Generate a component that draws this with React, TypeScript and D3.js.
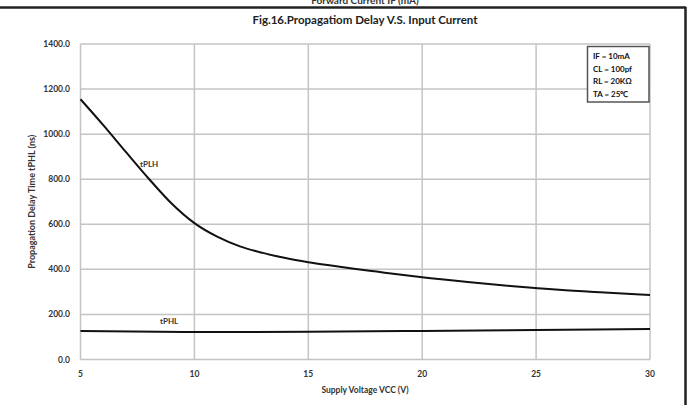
import React from "react";
import * as d3 from "d3";

const voltage = [5, 6, 7, 8, 9, 10, 11, 12, 13, 14, 15, 16, 17, 18, 19, 20, 22, 24, 26, 28, 30];
const tPLH = [1155, 1040, 920, 802, 692, 605, 545, 502, 473, 450, 432, 417, 403, 390, 377, 365, 344, 325, 309, 297, 286];
const phlVoltage = [5, 10, 15, 20, 25, 30];
const tPHL = [126, 122, 123, 127, 131, 135];
const yTicks = [0, 200, 400, 600, 800, 1000, 1200, 1400];
const xTicks = [5, 10, 15, 20, 25, 30];
const legendLines = ["IF = 10mA", "CL = 100pf", "RL = 20KΩ", "TA = 25℃"];

const W = 688, H = 405;
const m = { left: 80.5, right: 650, top: 44, bottom: 359.5 };
const FONT = "Lato, 'Open Sans', sans-serif";

export default function App() {
  const x = d3.scaleLinear().domain([5, 30]).range([m.left, m.right]);
  const y = d3.scaleLinear().domain([0, 1400]).range([m.bottom, m.top]);
  const line = d3
    .line<[number, number]>()
    .x((d) => x(d[0]))
    .y((d) => y(d[1]))
    .curve(d3.curveMonotoneX);
  const plh = line(voltage.map((v, i) => [v, tPLH[i]] as [number, number])) || "";
  const phl = line(phlVoltage.map((v, i) => [v, tPHL[i]] as [number, number])) || "";
  const grid = "#c4c4c4";
  return (
    <svg
      width={W}
      height={H}
      style={{ position: "absolute", left: 0, top: 0, background: "#fff" }}
      fontFamily={FONT}
    >
      <text x={365} y={4} textAnchor="middle" fontSize={10} fontWeight="bold" fill="#333">
        Forward Current IF (mA)
      </text>
      <line x1={0} x2={686} y1={7.5} y2={7.5} stroke="#222" strokeWidth={2.5} />
      <line x1={685.5} x2={685.5} y1={7} y2={H} stroke="#222" strokeWidth={2.5} />
      <text x={365} y={24} textAnchor="middle" fontSize={11.5} fontWeight="bold" fill="#222">
        Fig.16.Propagatiom Delay V.S. Input Current
      </text>
      {yTicks.map((t) => (
        <g key={"y" + t}>
          <line x1={m.left} x2={m.right} y1={y(t)} y2={y(t)} stroke={grid} strokeWidth={1.5} />
          <text x={70} y={y(t) + 3} textAnchor="end" fontSize={8.5} fontWeight="bold" fill="#333">
            {d3.format(".1f")(t)}
          </text>
        </g>
      ))}
      {xTicks.map((t) => (
        <g key={"x" + t}>
          <line x1={x(t)} x2={x(t)} y1={m.top} y2={m.bottom} stroke={grid} strokeWidth={1.5} />
          <text x={x(t)} y={377} textAnchor="middle" fontSize={8.5} fontWeight="bold" fill="#333">
            {t}
          </text>
        </g>
      ))}
      <path d={plh} fill="none" stroke="#111" strokeWidth={2} />
      <path d={phl} fill="none" stroke="#111" strokeWidth={2} />
      <text x={140} y={167} fontSize={8} fontWeight="bold" fill="#333">tPLH</text>
      <text x={160} y={324} fontSize={8} fontWeight="bold" fill="#333">tPHL</text>
      <text x={365} y={393} textAnchor="middle" fontSize={8.5} fontWeight="bold" fill="#333">
        Supply Voltage VCC (V)
      </text>
      <text
        transform={`translate(35,${(m.top + m.bottom) / 2}) rotate(-90)`}
        textAnchor="middle"
        fontSize={9}
        fontWeight="bold"
        fill="#333"
      >
        Propagation Delay Time  tPHL (ns)
      </text>
      <rect x={587.5} y={46.5} width={61.5} height={55.5} fill="#fff" stroke="#555" strokeWidth={1.5} />
      {legendLines.map((s, i) => (
        <text key={s} x={593} y={59 + i * 12.7} fontSize={8} fontWeight="bold" fill="#111">
          {s}
        </text>
      ))}
    </svg>
  );
}
